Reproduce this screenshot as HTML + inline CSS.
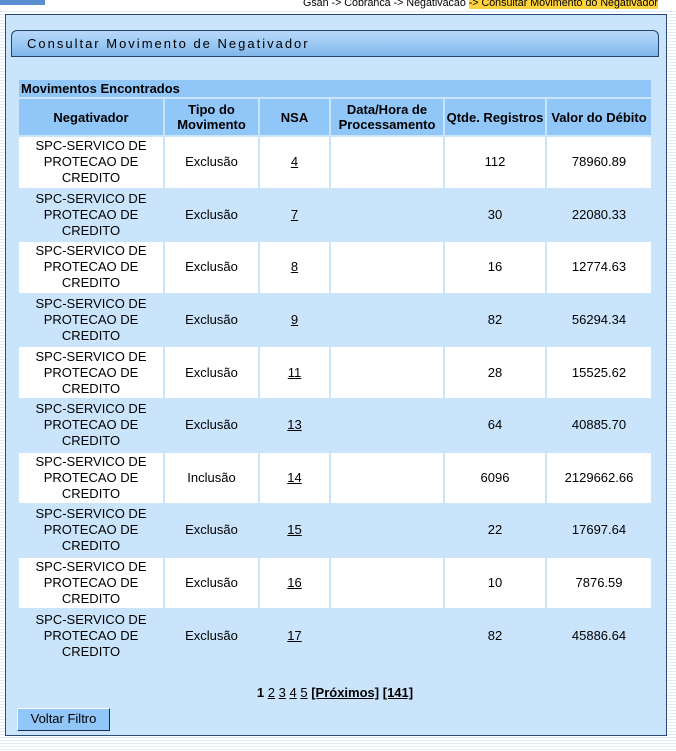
<!DOCTYPE html>
<html><head><meta charset="utf-8"><style>
*{margin:0;padding:0;box-sizing:border-box}
body{width:676px;height:751px;position:relative;overflow:hidden;font-family:"Liberation Sans",sans-serif;font-size:13px;color:#000;
background:repeating-linear-gradient(180deg,#fff 0,#fff 2px,#dcecf8 2px,#dcecf8 3px)}
.top{position:absolute;left:0;top:0;width:676px;height:10px;background:#fff}
.tl{position:absolute;left:0;top:0;width:45px;height:5px;background:#5a8ed0}
.crumb{position:absolute;left:303px;top:-3px;font-size:10.7px;white-space:nowrap}
.crumb span{background:#ffd23c}
.panel{position:absolute;left:5px;top:14px;width:662px;height:722px;background:#cae4fc;border:1px solid #2a4a78}
.tab{position:absolute;left:11px;top:30px;width:648px;height:27px;border:1px solid #25446e;border-radius:6px 6px 0 0;
background:linear-gradient(180deg,#b8d8f8 0,#9ccaf4 50%,#7fb6ea 100%);font-size:13px;letter-spacing:2px;padding:5px 0 0 15px}
table{position:absolute;left:17px;top:78px;width:636px;border-collapse:separate;border-spacing:2px;background:#cae4fc}
td,th{text-align:center;padding:0}
th{background:#90c6f8;font-weight:bold;height:36px;line-height:15px}
.cap{background:#90c6f8;text-align:left;font-weight:bold;height:17px;padding-left:2px}
tr.w td{background:#fff}
tr.b td{background:#cae4fc}
tbody td{height:50.6px;line-height:16px}
u{text-decoration:underline}
.pg{position:absolute;left:-3px;width:676px;top:685px;text-align:center;font-size:13px}
.btn{position:absolute;left:17px;top:708px;width:93px;height:23px;background:#90c6f8;border:1px solid #fff;border-right-color:#1a2f50;border-bottom-color:#1a2f50;text-align:center;line-height:20px;font-size:13px}
</style></head><body>
<div class="top"><div class="tl"></div></div>
<div class="crumb">Gsan -&gt; Cobranca -&gt; Negativacao <span>-&gt; Consultar Movimento do Negativador</span></div>
<div class="panel"></div>
<div class="tab">Consultar Movimento de Negativador</div>
<table>
<tr><td colspan="6" class="cap">Movimentos Encontrados</td></tr>
<tr><th style="width:144px">Negativador</th><th style="width:93px">Tipo do<br>Movimento</th><th style="width:69px">NSA</th><th style="width:112px">Data/Hora de<br>Processamento</th><th style="width:100px">Qtde. Registros</th><th>Valor do Débito</th></tr>
<tbody>
<tr class="w"><td>SPC-SERVICO DE<br>PROTECAO DE<br>CREDITO</td><td>Exclusão</td><td><u>4</u></td><td></td><td>112</td><td>78960.89</td></tr>
<tr class="b"><td>SPC-SERVICO DE<br>PROTECAO DE<br>CREDITO</td><td>Exclusão</td><td><u>7</u></td><td></td><td>30</td><td>22080.33</td></tr>
<tr class="w"><td>SPC-SERVICO DE<br>PROTECAO DE<br>CREDITO</td><td>Exclusão</td><td><u>8</u></td><td></td><td>16</td><td>12774.63</td></tr>
<tr class="b"><td>SPC-SERVICO DE<br>PROTECAO DE<br>CREDITO</td><td>Exclusão</td><td><u>9</u></td><td></td><td>82</td><td>56294.34</td></tr>
<tr class="w"><td>SPC-SERVICO DE<br>PROTECAO DE<br>CREDITO</td><td>Exclusão</td><td><u>11</u></td><td></td><td>28</td><td>15525.62</td></tr>
<tr class="b"><td>SPC-SERVICO DE<br>PROTECAO DE<br>CREDITO</td><td>Exclusão</td><td><u>13</u></td><td></td><td>64</td><td>40885.70</td></tr>
<tr class="w"><td>SPC-SERVICO DE<br>PROTECAO DE<br>CREDITO</td><td>Inclusão</td><td><u>14</u></td><td></td><td>6096</td><td>2129662.66</td></tr>
<tr class="b"><td>SPC-SERVICO DE<br>PROTECAO DE<br>CREDITO</td><td>Exclusão</td><td><u>15</u></td><td></td><td>22</td><td>17697.64</td></tr>
<tr class="w"><td>SPC-SERVICO DE<br>PROTECAO DE<br>CREDITO</td><td>Exclusão</td><td><u>16</u></td><td></td><td>10</td><td>7876.59</td></tr>
<tr class="b"><td>SPC-SERVICO DE<br>PROTECAO DE<br>CREDITO</td><td>Exclusão</td><td><u>17</u></td><td></td><td>82</td><td>45886.64</td></tr>
</tbody></table>
<div class="pg"><b>1</b> <u>2</u> <u>3</u> <u>4</u> <u>5</u> <u><b>[Próximos]</b></u> <u><b>[141]</b></u></div>
<div class="btn">Voltar Filtro</div>
</body></html>
